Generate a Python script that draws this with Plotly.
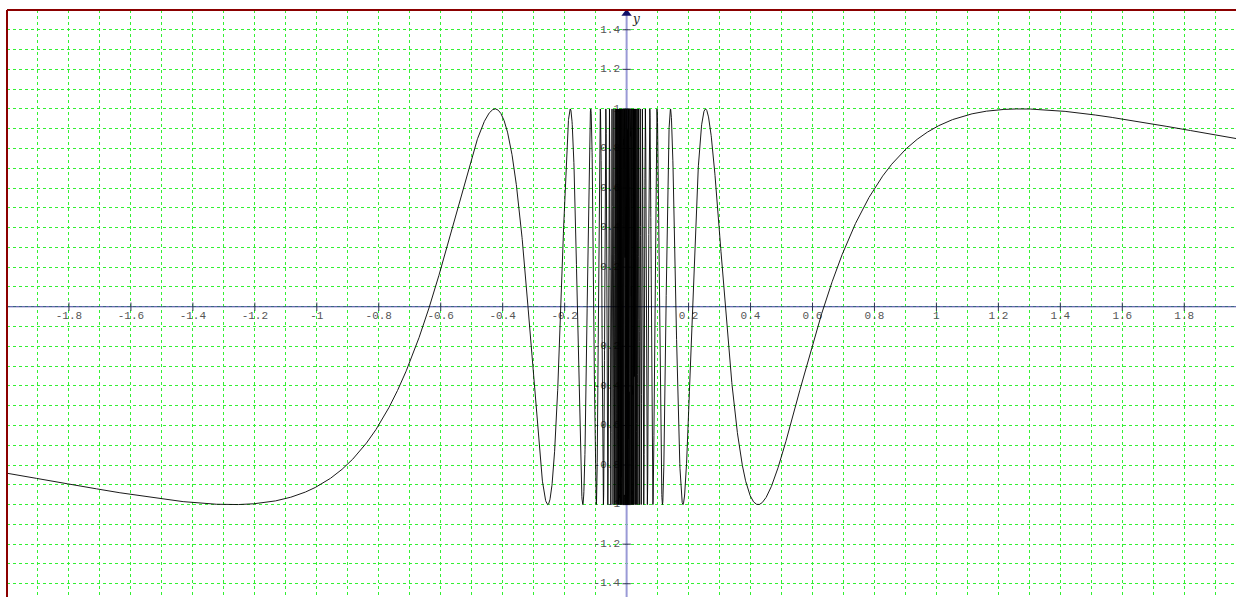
import numpy as np
import plotly.graph_objects as go

# ---- chart data ----
# Function plotted: y = AMPLITUDE * sin(FREQ_COEF / x)
AMPLITUDE = 1.0
FREQ_COEF = 2.0
X_MIN, X_MAX = -2.0, 1.967
Y_MIN, Y_MAX = -1.467, 1.5
x_tick_values = [-1.8, -1.6, -1.4, -1.2, -1, -0.8, -0.6, -0.4, -0.2, 0.2, 0.4, 0.6, 0.8, 1, 1.2, 1.4, 1.6, 1.8]
x_tick_labels = ["-1.8", "-1.6", "-1.4", "-1.2", "-1", "-0.8", "-0.6", "-0.4", "-0.2",
                 "0.2", "0.4", "0.6", "0.8", "1", "1.2", "1.4", "1.6", "1.8"]
y_tick_values = [1.4, 1.2, 1, 0.8, 0.6, 0.4, 0.2, -0.2, -0.4, -0.6, -0.8, -1, -1.2, -1.4]
y_tick_labels = ["1.4", "1.2", "1", "0.8", "0.6", "0.4", "0.2", "-0.2", "-0.4", "-0.6",
                 "-0.8", "-1", "-1.2", "-1.4"]

# sampling of the function (dense in phase near 0)
phase = np.arange(1.0, 2500.0, 0.05)
xs_dense = FREQ_COEF / phase
xs_lin = np.linspace(X_MIN, X_MAX, 6000)
xs = np.unique(np.concatenate([-xs_dense, xs_dense, xs_lin]))
xs = xs[(xs >= X_MIN) & (xs <= X_MAX) & (xs != 0)]
ys = AMPLITUDE * np.sin(FREQ_COEF / xs)

fig = go.Figure()

label_font = dict(family="Liberation Mono, Courier New, monospace", size=11, color="#555555")
LABEL_OFFSET_Y = -0.018  # small offset of x tick labels below axis

# tick labels (under the curve)
fig.add_trace(go.Scatter(x=x_tick_values, y=[LABEL_OFFSET_Y] * len(x_tick_values), mode="text",
                         text=x_tick_labels, textposition="bottom center",
                         textfont=label_font, hoverinfo="skip", cliponaxis=False))
fig.add_trace(go.Scatter(x=[0] * len(y_tick_values), y=y_tick_values, mode="text",
                         text=[t + " " for t in y_tick_labels], textposition="middle left",
                         textfont=label_font, hoverinfo="skip", cliponaxis=False))
# tick marks
fig.add_trace(go.Scatter(x=x_tick_values, y=[0] * len(x_tick_values), mode="markers",
                         marker=dict(symbol="line-ns", size=6, line=dict(width=1, color="#333355")),
                         hoverinfo="skip"))
fig.add_trace(go.Scatter(x=[0] * len(y_tick_values), y=y_tick_values, mode="markers",
                         marker=dict(symbol="line-ew", size=6, line=dict(width=1, color="#333355")),
                         hoverinfo="skip"))

# curve
fig.add_trace(go.Scatter(x=xs, y=ys, mode="lines", line=dict(color="black", width=0.9),
                         hoverinfo="skip"))

# arrow at top of y axis
fig.add_trace(go.Scatter(x=[0], y=[Y_MAX - 0.018], mode="markers",
                         marker=dict(symbol="triangle-up", size=9, color="#10106a"),
                         hoverinfo="skip", cliponaxis=False))

fig.add_annotation(x=0, y=Y_MAX, xref="x", yref="y", text="<i>y</i>", showarrow=False,
                   xanchor="left", yanchor="top", xshift=3, yshift=0,
                   font=dict(family="DejaVu Serif, serif", size=12, color="#222222"))

shapes = [
    dict(type="line", xref="x", yref="y", x0=X_MIN, x1=X_MAX, y0=0, y1=0,
         line=dict(color="#3a3a9a", width=1), layer="between"),
    dict(type="line", xref="x", yref="y", x0=0, x1=0, y0=Y_MIN, y1=Y_MAX,
         line=dict(color="#9a9ad6", width=2), layer="between"),
    dict(type="line", xref="paper", yref="paper", x0=0, x1=0, y0=0, y1=1,
         line=dict(color="#8b0000", width=2)),
    dict(type="line", xref="paper", yref="paper", x0=0, x1=1, y0=1, y1=1,
         line=dict(color="#8b0000", width=2)),
]

grid = dict(showgrid=True, gridcolor="#33f033", griddash="dot", gridwidth=1,
            zeroline=False, showticklabels=False, ticks="", showline=False)

fig.update_layout(
    width=1236, height=597,
    margin=dict(l=7, r=0, t=10, b=0),
    paper_bgcolor="white", plot_bgcolor="white",
    showlegend=False,
    shapes=shapes,
    xaxis=dict(range=[X_MIN, X_MAX], dtick=0.1, tick0=0, **grid),
    yaxis=dict(range=[Y_MIN, Y_MAX], dtick=0.1, tick0=0, **grid),
)

fig.write_html("out.html", config={"displayModeBar": False},
               post_script="document.body.style.margin='0';document.body.style.overflow='hidden';")
